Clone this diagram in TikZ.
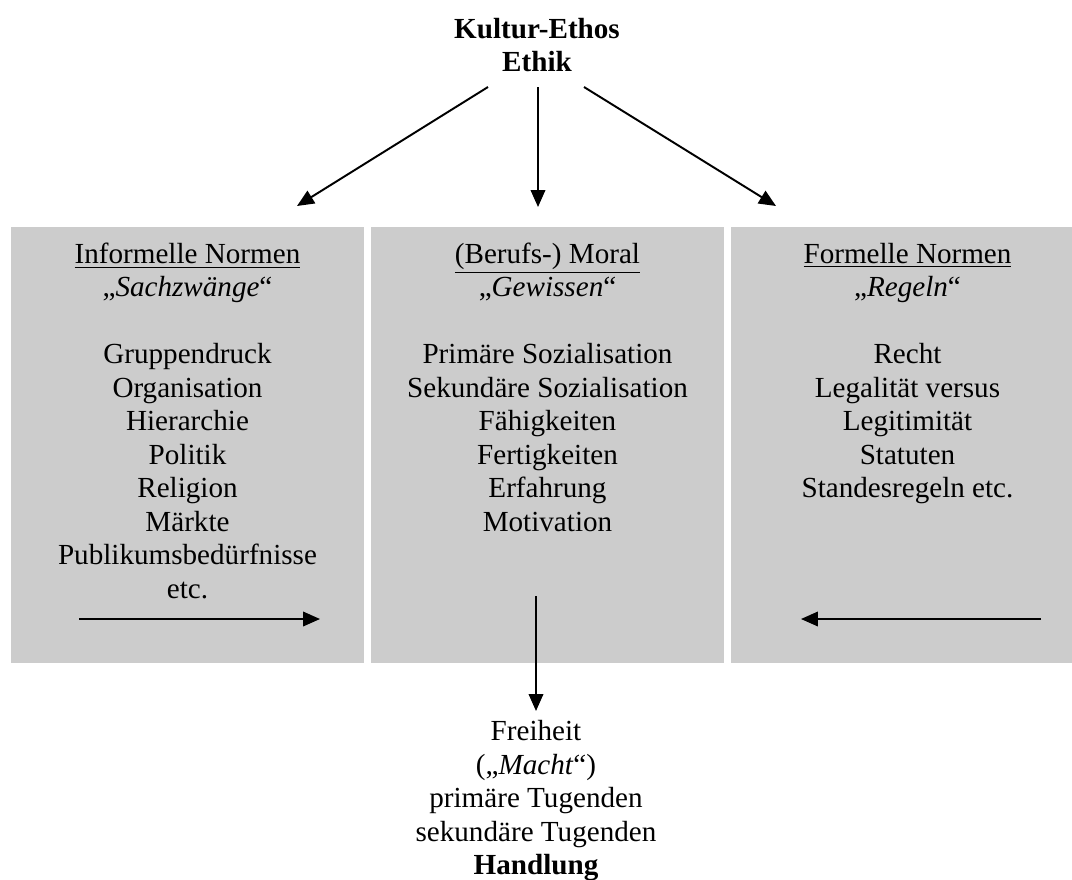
\documentclass[tikz,border=0pt]{standalone}
\usepackage{fontspec}
\setmainfont{Liberation Serif}
\usetikzlibrary{positioning,arrows.meta}
\definecolor{boxgray}{gray}{0.8}

\begin{document}
\begin{tikzpicture}[x=0.412pt,y=-0.412pt]
        \tikzstyle{every node}=[font=\fontsize{12}{13.8}\selectfont]
        \tikzstyle{panel}=[fill=boxgray,minimum width=145.4pt,minimum height=179.6pt,inner sep=0pt]
        \tikzstyle{paneltext}=[align=center,inner sep=0pt]
        \tikzstyle{pfeil}=[line width=0.8pt,-{Triangle[length=7pt,width=6pt]}]

        \useasboundingbox (0,0) rectangle (1072,879);

        % title
        \node [anchor=north,inner sep=0pt,align=center,font=\fontsize{12}{13.8}\selectfont\bfseries] (ethos) at (537,17.5) {Kultur-Ethos\\Ethik};

        % the three panels
        \node [panel] (informell) at (187.5,445) {};
        \node [panel] (moral) at (547.5,445) {};
        \node [panel] (formell) at (907.5,445) {};

        \node [paneltext,below=6.5pt of informell.north] (informelltext) {\underline{Informelle Normen}\\„\textit{Sachzwänge}“\\[13.8pt]Gruppendruck\\Organisation\\Hierarchie\\Politik\\Religion\\Märkte\\Publikumsbedürfnisse\\etc.};
        \node [paneltext,below=6.5pt of moral.north] (moraltext) {\underline{(Berufs-) Moral}\\„\textit{Gewissen}“\\[13.8pt]Primäre Sozialisation\\Sekundäre Sozialisation\\Fähigkeiten\\Fertigkeiten\\Erfahrung\\Motivation};
        \node [paneltext,below=6.5pt of formell.north] (formelltext) {\underline{Formelle Normen}\\„\textit{Regeln}“\\[13.8pt]Recht\\Legalität versus\\Legitimität\\Statuten\\Standesregeln etc.};

        % result
        \node [anchor=north,align=center,inner sep=3.7pt] (handlung) at (536,711) {Freiheit\\(„\textit{Macht}“)\\primäre Tugenden\\sekundäre Tugenden\\\textbf{Handlung}};

        % arrow ends
        \coordinate (ethosL) at (488,87);
        \coordinate (ethosM) at (538,87);
        \coordinate (ethosR) at (584,87);
        \coordinate (informellin) at (297,206);
        \coordinate (moralin) at (538,207);
        \coordinate (formellin) at (776,206);
        \coordinate (zwangfrom) at (79,619);
        \coordinate (zwangto) at (320,619);
        \coordinate (regelfrom) at (1041,619);
        \coordinate (regelto) at (801,619);
        \coordinate (moralout) at (536,596);

        \draw [pfeil] (ethosL) -- (informellin);
        \draw [pfeil] (ethosM) -- (moralin);
        \draw [pfeil] (ethosR) -- (formellin);
        \draw [pfeil] (zwangfrom) -- (zwangto);
        \draw [pfeil] (regelfrom) -- (regelto);
        \draw [pfeil] (moralout) -- (handlung.north);

\end{tikzpicture}
\end{document}
